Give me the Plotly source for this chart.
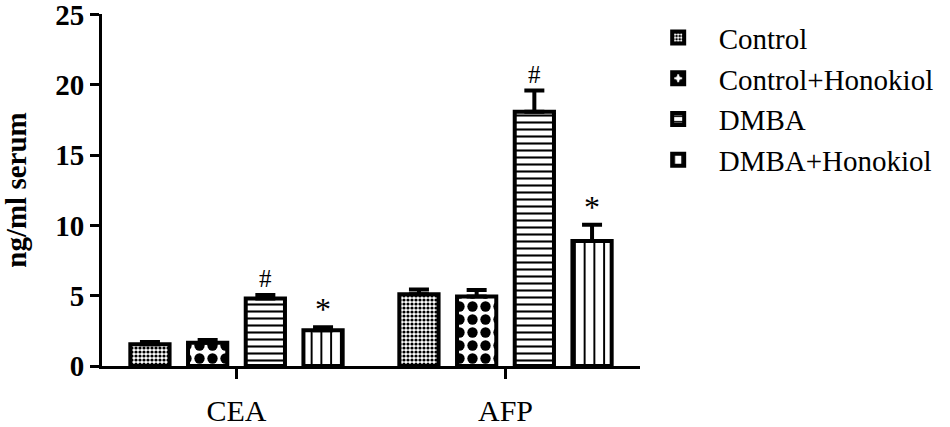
import plotly.graph_objects as go

categories = ["CEA", "AFP"]
groups = ["Control", "Control+Honokiol", "DMBA", "DMBA+Honokiol"]
values = {
    "Control": [1.55, 5.1],
    "Control+Honokiol": [1.65, 4.95],
    "DMBA": [4.8, 18.1],
    "DMBA+Honokiol": [2.55, 8.9],
}
errors = {
    "Control": [0.15, 0.35],
    "Control+Honokiol": [0.2, 0.45],
    "DMBA": [0.25, 1.5],
    "DMBA+Honokiol": [0.2, 1.15],
}
marks = {"DMBA": "#", "DMBA+Honokiol": "*"}
y_ticks = [0, 5, 10, 15, 20, 25]

patterns = {
    "Control": dict(shape=".", size=4, solidity=0.5),
    "Control+Honokiol": dict(shape=".", size=13, solidity=0.5),
    "DMBA": dict(shape="-", size=7, solidity=0.3),
    "DMBA+Honokiol": dict(shape="|", size=9.75, solidity=0.2),
}

FONT = "Liberation Serif"
bargap = 0.142
bargroupgap = 0.32

fig = go.Figure()
for i, g in enumerate(groups):
    p = patterns[g]
    fig.add_trace(go.Bar(
        name=g, x=categories, y=values[g],
        marker=dict(color="white", line=dict(color="black", width=4),
                    pattern=dict(shape=p["shape"], size=p["size"], solidity=p["solidity"],
                                 fgcolor="black", bgcolor="white", fgopacity=1,
                                 fillmode="replace")),
        error_y=dict(type="data", array=errors[g], arrayminus=[0] * len(categories),
                     symmetric=False, color="black", thickness=4, width=10),
    ))

slot = (1 - bargap) / len(groups)
annotations = []
for i, g in enumerate(groups):
    if g in marks:
        off = (i - (len(groups) - 1) / 2) * slot
        for j, c in enumerate(categories):
            annotations.append(dict(
                x=j + off, y=values[g][j] + errors[g][j], xref="x", yref="y",
                text=marks[g], showarrow=False, yanchor="bottom",
                yshift=1 if marks[g] == "#" else -2,
                font=dict(family=FONT, size=25 if marks[g] == "#" else 32, color="black"),
            ))

fig.update_layout(
    width=950, height=427,
    margin=dict(l=102, r=310, t=14, b=61, autoexpand=False),
    paper_bgcolor="white", plot_bgcolor="white",
    barmode="group", bargap=bargap, bargroupgap=bargroupgap,
    font=dict(family=FONT, color="black"),
    showlegend=True,
    legend=dict(x=0.9957, y=1.005, xanchor="left", yanchor="top",
                font=dict(family=FONT, size=29, color="black"),
                itemwidth=71, bgcolor="rgba(0,0,0,0)"),
    annotations=annotations,
)
fig.update_xaxes(
    type="category", range=[-0.5, 1.5], automargin=False,
    showline=True, linecolor="black", linewidth=3,
    ticks="outside", ticklen=10, tickwidth=3, tickcolor="black",
    tickfont=dict(family=FONT, size=30, color="black"),
    ticklabelstandoff=6, ticklabeloverflow="allow",
    showgrid=False, zeroline=False,
)
fig.update_yaxes(
    range=[0, 25.05], tickvals=y_ticks, automargin=False,
    showline=True, linecolor="black", linewidth=3,
    ticks="outside", ticklen=9, tickwidth=3, tickcolor="black",
    tickfont=dict(family=FONT, size=29, color="black", weight="bold"),
    ticklabeloverflow="allow",
    showgrid=False, zeroline=False,
    title=dict(text="<b>ng/ml serum</b>", font=dict(family=FONT, size=29, color="black"), standoff=24),
)
fig.write_html("out.html", config={"displayModeBar": False},
               post_script="document.body.style.margin='0';")
